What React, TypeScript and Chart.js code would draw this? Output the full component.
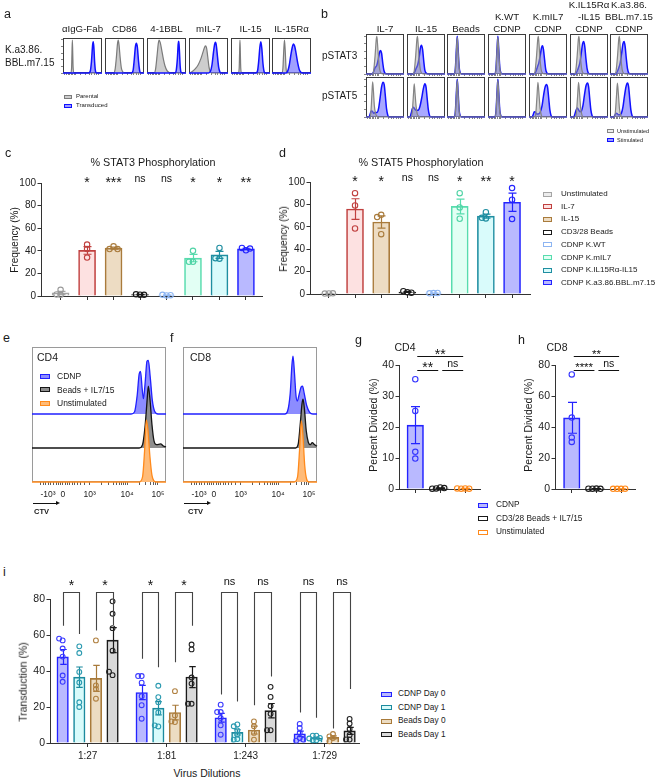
import React, { useEffect, useRef } from 'react';
import { Chart, registerables } from 'chart.js';

Chart.register(...registerables);

const FF = '"Liberation Sans", Arial, Helvetica, sans-serif';
Chart.defaults.font.family = FF;
Chart.defaults.color = '#222';

type P = [number, number];

/* =========================== DATA =========================== */

// a — marker histograms (x: position on logicle display axis 0–100, y: % of mode)
const A_ROW_LABEL = 'K.a3.86.\nBBL.m7.15';
const A_MARKERS = ['αIgG-Fab', 'CD86', '4-1BBL', 'mIL-7', 'IL-15', 'IL-15Rα'];
const A_LEGEND = ['Parental', 'Transduced'];
const A_PARENTAL: P[][] = [
  [[0,0],[20,0],[22,15],[23,60],[24,100],[25,60],[26,15],[28,0],[100,0]],
  [[0,0],[22,0],[26,12],[29,45],[32,88],[34,100],[36,85],[39,45],[42,15],[46,3],[50,0],[100,0]],
  [[0,0],[18,0],[22,12],[26,55],[29,90],[31,100],[34,92],[38,68],[42,42],[46,22],[51,8],[56,2],[61,0],[100,0]],
  [[0,0],[4,1],[10,6],[17,14],[24,26],[30,42],[35,60],[39,75],[42,82],[45,76],[48,50],[51,20],[54,5],[57,0],[100,0]],
  [[0,0],[19,0],[21,15],[22,60],[23,100],[24,60],[25,15],[27,0],[100,0]],
  [[0,0],[25,0],[28,15],[30,65],[32,100],[34,65],[36,15],[38,0],[100,0]],
];
const A_TRANSDUCED: P[][] = [
  [[0,0],[66,0],[70,6],[73,35],[76,85],[77.5,95],[79,80],[81,35],[83,8],[86,0],[100,0]],
  [[0,0],[68,0],[72,8],[75,40],[78,80],[80.5,90],[83,78],[86,35],[89,6],[92,0],[100,0]],
  [[0,0],[72,0],[75,8],[78,45],[80,88],[81.5,96],[83,70],[85,22],[87,3],[90,0],[100,0]],
  [[0,0],[50,0],[55,5],[59,25],[63,65],[66,88],[68,93],[70,84],[73,50],[76,18],[79,4],[82,0],[100,0]],
  [[0,0],[64,0],[68,6],[71,35],[74,78],[76.5,95],[79,75],[82,28],[85,4],[88,0],[100,0]],
  [[0,0],[36,0],[40,5],[44,22],[48,52],[52,78],[55,88],[58,82],[62,58],[66,30],[70,10],[74,2],[78,0],[100,0]],
];

// b — phospho-STAT histograms
const B_CONDITIONS = ['IL-7', 'IL-15', 'Beads', 'K.WT\nCDNP', 'K.mIL7\nCDNP', 'K.IL15Rα\n-IL15\nCDNP', 'K.a3.86.\nBBL.m7.15\nCDNP'];
const B_READOUTS = ['pSTAT3', 'pSTAT5'];
const B_LEGEND = ['Unstimulated', 'Stimulated'];
const B_UNSTIM_PSTAT3: P[][] = [
  [[0,0],[16,0],[20,8],[24,50],[27,92],[28.5,100],[30,85],[33,40],[36,12],[40,2],[44,0],[100,0]],
  [[0,0],[15,0],[19,8],[23,50],[26,92],[27.5,100],[29,85],[32,40],[35,12],[39,2],[43,0],[100,0]],
  [[0,0],[19,0],[22,12],[25,65],[27,97],[29,65],[32,15],[35,2],[38,0],[100,0]],
  [[0,0],[18,0],[21,12],[24,65],[26,97],[28,65],[31,15],[34,2],[37,0],[100,0]],
  [[0,0],[12,0],[16,8],[20,50],[23,92],[24.5,100],[26,85],[29,40],[32,12],[36,2],[40,0],[100,0]],
  [[0,0],[11,0],[15,8],[19,50],[22,92],[23.5,100],[25,85],[28,40],[31,12],[35,2],[39,0],[100,0]],
  [[0,0],[12,0],[16,8],[20,50],[23,92],[24.5,100],[26,85],[29,40],[32,12],[36,2],[40,0],[100,0]],
];
const B_STIM_PSTAT3: P[][] = [
  [[0,0],[16,0],[20,6],[24,17],[28,22],[32,38],[35,55],[38,62],[41,55],[44,30],[47,10],[50,2],[54,0],[100,0]],
  [[0,0],[16,0],[20,5],[24,15],[28,24],[32,45],[35,68],[38,76],[41,65],[44,35],[47,10],[51,2],[55,0],[100,0]],
  [[0,0],[19,0],[22,14],[25,70],[27,100],[29,70],[32,18],[35,3],[38,0],[100,0]],
  [[0,0],[18,0],[21,14],[24,70],[26,100],[28,70],[31,18],[34,3],[37,0],[100,0]],
  [[0,0],[14,0],[18,6],[22,18],[26,30],[30,52],[33,70],[35.5,75],[38,65],[41,38],[44,12],[47,3],[51,0],[100,0]],
  [[0,0],[14,0],[18,6],[22,16],[26,30],[30,58],[33,80],[36,86],[39,72],[42,40],[45,14],[48,3],[52,0],[100,0]],
  [[0,0],[15,0],[19,6],[23,16],[27,30],[31,58],[34,80],[37,86],[40,72],[43,40],[46,14],[49,3],[53,0],[100,0]],
];
const B_UNSTIM_PSTAT5: P[][] = [
  [[0,0],[10,0],[13,15],[15.5,60],[17.5,93],[19.5,70],[22,30],[25,10],[29,2],[33,0],[100,0]],
  [[0,0],[11,0],[14,15],[17,60],[19,88],[21,65],[24,28],[27,8],[31,2],[35,0],[100,0]],
  [[0,0],[19,0],[22,12],[25,65],[27,97],[29,65],[32,15],[35,2],[38,0],[100,0]],
  [[0,0],[18,0],[21,12],[24,65],[26,97],[28,65],[31,15],[34,2],[37,0],[100,0]],
  [[0,0],[14,0],[18,12],[21,55],[23.5,92],[26,65],[29,25],[32,7],[36,0],[100,0]],
  [[0,0],[13,0],[17,12],[20,55],[22.5,92],[25,65],[28,25],[31,7],[35,0],[100,0]],
  [[0,0],[11,0],[14,12],[17,55],[19.5,90],[22,62],[25,22],[28,6],[32,0],[100,0]],
];
const B_STIM_PSTAT5: P[][] = [
  [[0,0],[8,0],[11,8],[14,16],[17,15],[20,10],[24,12],[29,12],[33,22],[37,50],[41,80],[45,92],[48,85],[51,55],[54,22],[57,6],[60,0],[100,0]],
  [[0,0],[8,0],[11,10],[14,22],[17,26],[20,22],[24,18],[29,18],[34,28],[39,52],[43,75],[47,88],[50,80],[53,50],[56,20],[59,5],[62,0],[100,0]],
  [[0,0],[19,0],[22,14],[25,70],[27,100],[29,70],[32,18],[35,3],[38,0],[100,0]],
  [[0,0],[18,0],[21,14],[24,70],[26,100],[28,70],[31,18],[34,3],[37,0],[100,0]],
  [[0,0],[8,0],[11,6],[14,14],[17,13],[20,8],[24,8],[29,12],[34,28],[38,55],[42,78],[46,86],[49,78],[52,48],[55,18],[58,4],[61,0],[100,0]],
  [[0,0],[10,0],[13,8],[16,18],[19,24],[22,20],[26,14],[30,16],[34,30],[38,58],[42,82],[46,90],[49,80],[52,48],[55,18],[58,4],[61,0],[100,0]],
  [[0,0],[10,0],[13,5],[16,10],[19,9],[22,6],[26,6],[30,10],[34,26],[38,55],[42,80],[46,90],[49,80],[52,48],[55,18],[58,4],[61,0],[100,0]],
];

// c, d — phosphorylation frequency (%)
const CD_GROUPS = ['Unstimulated', 'IL-7', 'IL-15', 'CD3/28 Beads', 'CDNP K.WT', 'CDNP K.mIL7', 'CDNP K.IL15Rα-IL15', 'CDNP K.a3.86.BBL.m7.15'];
const STAT3_FREQ = [
  [5.5, 1.2, 1.4], [45.5, 41.5, 34], [44, 41.5, 41.5], [1.2, 1.5, 1.0],
  [0.5, 1.0, 0.7], [40, 30.3, 30.3], [42.5, 33, 33.5], [40.5, 42.5, 42],
];
const STAT3_SIG = ['', '*', '***', 'ns', 'ns', '*', '*', '**'];
const STAT5_FREQ = [
  [0.5, 0.4, 0.6], [90, 79, 58.5], [70.7, 68.7, 53.4], [1.5, 2.5, 1.2],
  [0.8, 0.6, 0.9], [90, 77.3, 67.2], [73, 67.5, 68], [94.6, 84.2, 66.9],
];
const STAT5_SIG = ['', '*', '*', 'ns', 'ns', '*', '**', '*'];

// e, f — CTV dilution histograms (height above each lane's baseline, lane units)
const CTV_SERIES = ['CDNP', 'Beads + IL7/15', 'Unstimulated'];
const CTV_TICK_VALUES = [12, 23, 43, 71, 94];
const CTV_TICK_LABELS = ['-10³', '0', '10³', '10⁴', '10⁵'];
const CTV_MINOR_TICKS = [6, 8.5, 10, 14, 16, 18, 19.5, 21, 25, 26.5, 28, 30, 32, 34, 36.5, 39.5, 52, 57, 60.5, 63, 65, 66.8, 68.3, 69.7, 80, 85, 88.5, 91, 92.5];
const E_CD4: P[][] = [
  [[0,0],[74,0],[76.5,0.06],[78.5,0.55],[80,1.18],[81,1.25],[82.2,0.75],[83.2,0.45],[84.5,0.95],[85.8,1.55],[86.8,1.58],[88.2,1.1],[89.8,0.4],[91.5,0.08],[94,0],[100,0]],
  [[0,0],[80,0],[82.5,0.1],[84.3,0.6],[85.8,1.35],[86.8,1.82],[88,1.45],[89.5,0.7],[91,0.22],[93,0.1],[96,0.12],[98,0.06],[100,0.03]],
  [[0,0],[80,0],[82.5,0.15],[84,0.9],[85.3,1.82],[86.5,1.55],[88,0.75],[89.5,0.2],[91,0.03],[93,0],[100,0]],
];
const F_CD8: P[][] = [
  [[0,0],[76,0],[78,0.08],[80,0.6],[81.3,1.45],[82.1,1.7],[83.2,1.2],[84.3,0.55],[85.3,0.38],[86.8,0.6],[88.2,0.8],[89.2,0.82],[90.5,0.6],[92.3,0.25],[94.5,0.05],[97,0],[100,0]],
  [[0,0],[84,0],[86,0.12],[87.6,0.75],[88.8,1.3],[89.6,1.44],[90.6,1.15],[92,0.5],[93.5,0.17],[95,0.1],[96.5,0.16],[98,0.1],[100,0.05]],
  [[0,0],[83,0],[85.5,0.15],[87,0.95],[88.3,1.8],[89.4,1.45],[90.8,0.5],[92.3,0.08],[94,0],[100,0]],
];

// g, h — percent divided
const DIV_GROUPS = ['CDNP', 'CD3/28 Beads + IL7/15', 'Unstimulated'];
const G_CD4_DIVIDED = [[35.4, 25.2, 12, 9.8], [0.5, 0.2, 0.3, 0.1], [0.2, 0.1, 0.1, 0.2]];
const H_CD8_DIVIDED = [[73.9, 46.1, 33.2, 30.4], [0.3, 0.2, 0.1, 0.2], [0.1, 0.1, 0.2, 0.1]];
const G_COMPARISONS = [
  { a: 0, b: 2, level: 42.9, label: '**' },
  { a: 0, b: 1, level: 38.4, label: '**' },
  { a: 1, b: 2, level: 38.4, label: 'ns' },
];
const H_COMPARISONS = [
  { a: 0, b: 2, level: 85.8, label: '**' },
  { a: 0, b: 1, level: 76.8, label: '****' },
  { a: 1, b: 2, level: 76.8, label: 'ns' },
];

// i — transduction (%) by virus dilution
const I_DILUTIONS = ['1:27', '1:81', '1:243', '1:729'];
const I_SERIES = ['CDNP Day 0', 'CDNP Day 1', 'Beads Day 0', 'Beads Day 1'];
const I_CDNP_D0 = [[57, 58, 52.5, 48, 37.5, 34], [37.2, 37.2, 33.5, 26, 21, 13.5], [21.3, 17.2, 17.2, 13.9, 9.8, 4.6], [8.4, 10.6, 5.6, 2.8, 1.3, 1.9]];
const I_CDNP_D1 = [[53.7, 50, 39.5, 33.6, 20, 22.6], [31.8, 25.5, 22.7, 9.2, 9.8, 17], [10.3, 9.3, 7, 2.2, 1.9, 4.7], [4.1, 4.1, 2.8, 1.5, 1.5, 2.5]];
const I_BEADS_D0 = [[57, 32, 30, 24.6], [28.8, 11.6, 15.3, 12], [12, 9.3, 5.6, 1.9], [5, 3.7, 2.8, 1]];
const I_BEADS_D1 = [[78.7, 71.8, 63.8, 51.3, 37.7, 39.6], [52, 54.7, 36.4, 21.8, 21.8, 33], [31.2, 25.6, 20.5, 16.2, 7.1, 7.1], [13.4, 10.8, 7.8, 4.5, 1.9, 2]];
const I_SIG = ['*', '*', '*', '*', 'ns', 'ns', 'ns', 'ns'];
const I_BRACKET_LEVEL = 83.7;
const I_BRACKET_LEGS = [[65.2, 60.6], [62.5, 65.6], [46.8, 42.1], [44.9, 65.2], [27, 23], [21, 37], [17, 14], [8, 30]];

/* =========================== STYLES =========================== */

const CD_COLORS = [
  { line: '#a5a5a5', fill: '#ececec', dot: '#9a9a9a' },
  { line: '#c0403f', fill: '#fde1e1', dot: '#c0403f' },
  { line: '#a97b3c', fill: '#eddcc3', dot: '#a97b3c' },
  { line: '#1a1a1a', fill: '#ffffff', dot: '#1a1a1a' },
  { line: '#8db5f2', fill: '#ffffff', dot: '#8db5f2' },
  { line: '#58dcae', fill: '#e2fff4', dot: '#4fd3a5' },
  { line: '#1f8ea1', fill: '#d9fbfb', dot: '#1f8ea1' },
  { line: '#2323ff', fill: '#b9b9ff', dot: '#2323ff' },
];
const CTV_COLORS = [
  { line: '#2020ff', fill: '#8c8cff', width: 1.3 },
  { line: '#151515', fill: '#8e8e8e', width: 1.3 },
  { line: '#ff8a1c', fill: '#ffbb78', width: 1.3 },
];
const DIV_COLORS = [
  { line: '#2323ff', fill: '#b9b9ff', dot: '#3535ff' },
  { line: '#1a1a1a', fill: '#ffffff', dot: '#1a1a1a' },
  { line: '#ff8a1c', fill: '#ffffff', dot: '#ff8a1c' },
];
const I_COLORS = [
  { line: '#2323ff', fill: '#b9b9ff', dot: '#3a3aff' },
  { line: '#1b8a9e', fill: '#d8fbfb', dot: '#2a9ab0' },
  { line: '#a87a3a', fill: '#ecdcc2', dot: '#b08040' },
  { line: '#1a1a1a', fill: '#d9d9d9', dot: '#222222' },
];
const PARENTAL_STYLE = { line: '#7b7b7b', fill: '#cdcdcd', width: 1.2 };
const TRANSDUCED_STYLE = { line: '#1010ff', fill: 'rgba(96,96,255,0.6)', width: 1.5 };
const UNSTIM_STYLE = { line: '#858585', fill: 'rgba(160,160,160,0.45)', width: 1.2 };
const STIM_STYLE = { line: '#1010ff', fill: 'rgba(96,96,255,0.55)', width: 1.5 };
const MINI_X_TICKS = [5, 9, 13, 17, 21, 25, 29, 33, 45, 58, 67, 72, 80, 86, 92];
const MINI_Y_TICKS = [0, 20, 40, 60, 80, 100];

/* =========================== HELPERS =========================== */

interface Box { l: number; t: number; r: number; b: number }
interface Pad { l: number; t: number; r: number; b: number }
interface Spec { rect: { x: number; y: number; w: number; h: number }; make: () => any }

const avg = (a: number[]) => a.reduce((s, v) => s + v, 0) / a.length;
const sem = (a: number[]) => {
  const m = avg(a);
  return Math.sqrt(a.reduce((s, v) => s + (v - m) ** 2, 0) / (a.length - 1)) / Math.sqrt(a.length);
};
const snap = (v: number) => Math.round(v) + 0.5;

function place(box: Box, yW: number, xH: number, pad: Pad) {
  const x = box.l - yW - pad.l;
  const y = box.t - pad.t;
  return {
    rect: { x, y, w: box.r + pad.r - x, h: box.b + xH + pad.b - y },
    padding: { left: pad.l, top: pad.t, right: pad.r, bottom: pad.b },
  };
}

const baseOptions = (padding: any) => ({
  animation: false,
  responsive: false,
  maintainAspectRatio: false,
  devicePixelRatio: 1,
  events: [],
  layout: { padding },
  plugins: { legend: { display: false }, tooltip: { enabled: false } },
});

const framePlugin = (color: string) => ({
  id: 'frame',
  beforeDatasetsDraw(chart: any) {
    const { ctx, chartArea: a } = chart;
    ctx.save();
    ctx.strokeStyle = color;
    ctx.lineWidth = 1;
    ctx.strokeRect(a.left + 0.5, a.top + 0.5, a.right - a.left - 1, a.bottom - a.top - 1);
    ctx.restore();
  },
});

function drawSig(ctx: CanvasRenderingContext2D, text: string, x: number, cy: number, starPx: number, nsPx: number) {
  if (!text) return;
  ctx.save();
  ctx.fillStyle = '#111';
  ctx.textAlign = 'center';
  ctx.textBaseline = 'alphabetic';
  if (text.startsWith('*')) {
    ctx.font = `${starPx}px ${FF}`;
    ctx.fillText(text, x, cy + 0.56 * starPx);
  } else {
    ctx.font = `${nsPx}px ${FF}`;
    ctx.fillText(text, x, cy + 0.27 * nsPx);
  }
  ctx.restore();
}

function curveDataset(pts: P[], st: { line: string; fill: string; width: number }, order: number, base = 0) {
  return {
    data: pts.map(([x, y]) => ({ x, y: y + base })),
    borderColor: st.line,
    backgroundColor: st.fill,
    borderWidth: st.width,
    fill: { value: base },
    pointRadius: 0,
    cubicInterpolationMode: 'monotone',
    order,
    clip: 3,
  };
}

function miniHist(box: Box, back: P[], backSt: any, front: P[], frontSt: any, yTicks: boolean): Spec {
  const { rect, padding } = place(box, 3, 3, { l: 1, t: 2, r: 2, b: 1 });
  return {
    rect,
    make: () => ({
      type: 'line',
      data: { datasets: [curveDataset(back, backSt, 2), curveDataset(front, frontSt, 1)] },
      options: {
        ...baseOptions(padding),
        scales: {
          x: {
            type: 'linear', min: 0, max: 100,
            afterBuildTicks: (s: any) => { s.ticks = MINI_X_TICKS.map((value) => ({ value })); },
            ticks: { display: false },
            grid: { drawOnChartArea: false, tickLength: 2, color: '#666', lineWidth: 0.8 },
            border: { display: false },
            afterFit: (s: any) => { s.height = 3; },
          },
          y: {
            type: 'linear', min: 0, max: 106,
            afterBuildTicks: (s: any) => { s.ticks = MINI_Y_TICKS.map((value) => ({ value })); },
            ticks: { display: false },
            grid: { drawOnChartArea: false, drawTicks: yTicks, tickLength: 2, color: '#666', lineWidth: 0.8 },
            border: { display: false },
            afterFit: (s: any) => { s.width = 3; },
          },
        },
      },
      plugins: [framePlugin('#3c3c3c')],
    }),
  };
}

function swarm(vals: number[], pxY: number, pxX: number, r: number): number[] {
  const placed: { x: number; y: number }[] = [];
  const step = r * 1.5;
  return vals.map((v) => {
    const y = v * pxY;
    let cx = 0;
    for (let k = 0; k < 40; k++) {
      const c = k === 0 ? 0 : (k % 2 ? -1 : 1) * Math.ceil(k / 2) * step;
      if (placed.every((p) => Math.hypot(p.x - c, p.y - y) >= step - 0.01)) { cx = c; break; }
    }
    placed.push({ x: cx, y });
    return cx / pxX;
  });
}

interface BarItem { x: number; vals: number[]; line: string; fill: string; dot: string }
interface DotBarSpec {
  box: Box; yW: number; xH: number; pad: Pad;
  xMin: number; xMax: number; yMax: number; yStep: number; yFont: number;
  items: BarItem[]; barPx: number; dotR: number; capPx: number;
  xTicks: number[]; xLabels?: string[]; xFont?: number; xPad?: number;
  annotate?: (chart: any) => void;
}

function dotBar(s: DotBarSpec): Spec {
  const { rect, padding } = place(s.box, s.yW, s.xH, s.pad);
  const pxY = (s.box.b - s.box.t) / s.yMax;
  const pxX = (s.box.r - s.box.l) / (s.xMax - s.xMin);
  const n = s.items.length;
  const errPlugin = {
    id: 'errbars',
    afterDatasetDraw(chart: any, args: any) {
      if (args.index >= n) return;
      const it = s.items[args.index];
      const m = avg(it.vals);
      const e = sem(it.vals);
      const xs = chart.scales.x;
      const ys = chart.scales.y;
      const x = snap(xs.getPixelForValue(it.x));
      const y1 = ys.getPixelForValue(Math.max(0, m - e));
      const y2 = ys.getPixelForValue(m + e);
      const ctx = chart.ctx;
      ctx.save();
      ctx.strokeStyle = it.line;
      ctx.lineWidth = 1.2;
      ctx.beginPath();
      ctx.moveTo(x, y1); ctx.lineTo(x, y2);
      ctx.moveTo(x - s.capPx / 2, y2); ctx.lineTo(x + s.capPx / 2, y2);
      ctx.moveTo(x - s.capPx / 2, y1); ctx.lineTo(x + s.capPx / 2, y1);
      ctx.stroke();
      ctx.restore();
    },
  };
  const annPlugin = { id: 'annotations', afterDraw(chart: any) { if (s.annotate) s.annotate(chart); } };
  return {
    rect,
    make: () => ({
      type: 'bar',
      data: {
        datasets: [
          ...s.items.map((it) => ({
            type: 'bar',
            data: [{ x: it.x, y: avg(it.vals) }],
            backgroundColor: it.fill,
            borderColor: it.line,
            borderWidth: 1.6,
            barThickness: s.barPx,
            grouped: false,
            order: 2,
          })),
          ...s.items.map((it) => {
            const offs = swarm(it.vals, pxY, pxX, s.dotR);
            return {
              type: 'scatter',
              data: it.vals.map((v, j) => ({ x: it.x + offs[j], y: v })),
              pointRadius: s.dotR,
              pointBorderWidth: 1.1,
              pointBorderColor: it.dot,
              pointBackgroundColor: 'rgba(0,0,0,0)',
              order: 1,
              clip: false,
            };
          }),
        ],
      },
      options: {
        ...baseOptions(padding),
        scales: {
          x: {
            type: 'linear', min: s.xMin, max: s.xMax, offset: false,
            afterBuildTicks: (a: any) => { a.ticks = s.xTicks.map((value) => ({ value })); },
            ticks: {
              display: !!s.xLabels, autoSkip: false, maxRotation: 0, minRotation: 0,
              font: { size: s.xFont || 10 }, color: '#222', padding: s.xPad ?? 3,
              callback: (_v: any, i: number) => (s.xLabels ? s.xLabels[i] : ''),
            },
            grid: { drawOnChartArea: false, offset: false, tickLength: 4, color: '#333' },
            border: { color: '#333', width: 1 },
            afterFit: (a: any) => { a.height = s.xH; },
          },
          y: {
            type: 'linear', min: 0, max: s.yMax,
            ticks: { stepSize: s.yStep, font: { size: s.yFont }, color: '#222', padding: 1.5 },
            grid: { drawOnChartArea: false, tickLength: 3.5, color: '#333' },
            border: { color: '#333', width: 1 },
            afterFit: (a: any) => { a.width = s.yW; },
          },
        },
      },
      plugins: [errPlugin, annPlugin],
    }),
  };
}

function ctvChart(box: Box, curves: P[][]): Spec {
  const { rect, padding } = place(box, 0, 20, { l: 4, t: 2, r: 8, b: 2 });
  const laneTop = (box.b - box.t) / 34; // lane units in this plot height
  return {
    rect,
    make: () => ({
      type: 'line',
      data: {
        datasets: curves.map((c, i) => curveDataset(c, CTV_COLORS[i], 3 - i, curves.length - 1 - i)),
      },
      options: {
        ...baseOptions(padding),
        scales: {
          x: {
            type: 'linear', min: 0, max: 100,
            afterBuildTicks: (s: any) => {
              s.ticks = [...CTV_MINOR_TICKS, ...CTV_TICK_VALUES].sort((p, q) => p - q).map((value) => ({ value }));
            },
            ticks: {
              autoSkip: false, maxRotation: 0, minRotation: 0, font: { size: 8.5 }, color: '#222', padding: 5,
              callback: (v: number) => {
                const k = CTV_TICK_VALUES.indexOf(v);
                return k >= 0 ? CTV_TICK_LABELS[k] : '';
              },
            },
            grid: { drawOnChartArea: false, tickLength: 3, color: '#333', lineWidth: 0.8 },
            border: { display: false },
            afterFit: (s: any) => { s.height = 20; },
          },
          y: { display: false, min: 0, max: laneTop },
        },
      },
      plugins: [framePlugin('#9a9a9a')],
    }),
  };
}

/* =========================== LAYOUT =========================== */

const A_BOX_X = [63, 105, 147, 189, 231, 272];
const A_BOX_W = 39;
const B_BOX_X = [366, 407, 447, 488, 529, 570, 610];
const B_BOX_W = 38;
const B_ROWS_Y = [[34, 74], [77, 117]];

const charts: Spec[] = [];

A_MARKERS.forEach((_, k) => {
  charts.push(miniHist({ l: A_BOX_X[k], t: 38, r: A_BOX_X[k] + A_BOX_W, b: 73 }, A_PARENTAL[k], PARENTAL_STYLE, A_TRANSDUCED[k], TRANSDUCED_STYLE, k === 0));
});
const B_UNSTIM = [B_UNSTIM_PSTAT3, B_UNSTIM_PSTAT5];
const B_STIM = [B_STIM_PSTAT3, B_STIM_PSTAT5];
B_READOUTS.forEach((_, r) => {
  B_CONDITIONS.forEach((__, k) => {
    charts.push(miniHist({ l: B_BOX_X[k], t: B_ROWS_Y[r][0], r: B_BOX_X[k] + B_BOX_W, b: B_ROWS_Y[r][1] }, B_STIM[r][k], STIM_STYLE, B_UNSTIM[r][k], UNSTIM_STYLE, k === 0));
  });
});

function statPanel(box: Box, xMin: number, xMax: number, values: number[][], sig: string[]): Spec {
  return dotBar({
    box, yW: 32, xH: 6, pad: { l: 2, t: 40, r: 4, b: 2 },
    xMin, xMax, yMax: 100, yStep: 20, yFont: 10,
    items: values.map((vals, i) => ({ x: i, vals, ...CD_COLORS[i] })),
    barPx: 17, dotR: 2.7, capPx: 8,
    xTicks: values.map((_, i) => i),
    annotate: (ch) => {
      const cy = ch.scales.y.getPixelForValue(100) - 3.5;
      sig.forEach((t, i) => drawSig(ch.ctx, t, ch.scales.x.getPixelForValue(i), cy, 14, 10.5));
    },
  });
}
charts.push(statPanel({ l: 41, t: 183, r: 264, b: 296 }, -0.74, 7.64, STAT3_FREQ, STAT3_SIG));
charts.push(statPanel({ l: 310, t: 182, r: 532, b: 294 }, -0.72, 7.72, STAT5_FREQ, STAT5_SIG));

charts.push(ctvChart({ l: 32, t: 347, r: 166, b: 482 }, E_CD4));
charts.push(ctvChart({ l: 183, t: 347, r: 317, b: 482 }, F_CD8));

function dividedPanel(box: Box, xMin: number, xMax: number, yMax: number, yStep: number, values: number[][], comps: any[], starPx: number): Spec {
  return dotBar({
    box, yW: 26, xH: 6, pad: { l: 2, t: 25, r: 4, b: 2 },
    xMin, xMax, yMax, yStep, yFont: 10.5,
    items: values.map((vals, i) => ({ x: i, vals, ...DIV_COLORS[i] })),
    barPx: 16.5, dotR: 2.7, capPx: 9,
    xTicks: values.map((_, i) => i),
    annotate: (ch) => {
      const ctx = ch.ctx;
      comps.forEach((c: any, idx: number) => {
        const y = snap(ch.scales.y.getPixelForValue(c.level));
        const x1 = ch.scales.x.getPixelForValue(c.a) + 2;
        const x2 = ch.scales.x.getPixelForValue(c.b) - 2;
        ctx.save();
        ctx.strokeStyle = '#111';
        ctx.lineWidth = 1;
        ctx.beginPath();
        ctx.moveTo(x1, y); ctx.lineTo(x2, y);
        ctx.stroke();
        ctx.restore();
        drawSig(ctx, c.label, (x1 + x2) / 2, y - (idx === 0 ? 5 : 6), starPx, 10.5);
      });
    },
  });
}
charts.push(dividedPanel({ l: 399, t: 365, r: 482, b: 489 }, -0.652, 2.63, 40, 10, G_CD4_DIVIDED, G_COMPARISONS, 14));
charts.push(dividedPanel({ l: 555, t: 365, r: 637, b: 489 }, -0.68, 2.6, 80, 20, H_CD8_DIVIDED, H_COMPARISONS, 11.5));

const I_GROUP_PX = 79.8;
const I_BAR_STEP_PX = 16.8;
const I_OFF = [-1.5, -0.5, 0.5, 1.5].map((k) => (k * I_BAR_STEP_PX) / I_GROUP_PX);
const I_DATA = [I_CDNP_D0, I_CDNP_D1, I_BEADS_D0, I_BEADS_D1];
charts.push(
  dotBar({
    box: { l: 50, t: 599, r: 363, b: 743 }, yW: 30, xH: 20, pad: { l: 2, t: 25, r: 2, b: 0 },
    xMin: -0.476, xMax: 3.446, yMax: 80, yStep: 20, yFont: 10.5,
    items: I_DILUTIONS.flatMap((_, g) => I_DATA.map((series, k) => ({ x: g + I_OFF[k], vals: series[g], ...I_COLORS[k] }))),
    barPx: 11.5, dotR: 2.4, capPx: 6.5,
    xTicks: I_DILUTIONS.map((_, g) => g), xLabels: I_DILUTIONS, xFont: 10, xPad: 3,
    annotate: (ch) => {
      const xs = ch.scales.x;
      const ys = ch.scales.y;
      const ctx = ch.ctx;
      const top = snap(ys.getPixelForValue(I_BRACKET_LEVEL));
      I_DILUTIONS.forEach((_, g) => {
        [0, 1].forEach((p) => {
          const k = g * 2 + p;
          const xa = snap(xs.getPixelForValue(g + I_OFF[p * 2]));
          const xb = snap(xs.getPixelForValue(g + I_OFF[p * 2 + 1]));
          ctx.save();
          ctx.strokeStyle = '#444';
          ctx.lineWidth = 1.1;
          ctx.beginPath();
          ctx.moveTo(xa, ys.getPixelForValue(I_BRACKET_LEGS[k][0]));
          ctx.lineTo(xa, top);
          ctx.lineTo(xb, top);
          ctx.lineTo(xb, ys.getPixelForValue(I_BRACKET_LEGS[k][1]));
          ctx.stroke();
          ctx.restore();
          drawSig(ctx, I_SIG[k], (xa + xb) / 2, top - 10.5, 14, 11);
        });
      });
    },
  })
);

/* =========================== COMPONENTS =========================== */

function ChartView({ spec }: { spec: Spec }) {
  const ref = useRef<HTMLCanvasElement>(null);
  useEffect(() => {
    const chart = new Chart(ref.current as HTMLCanvasElement, spec.make());
    return () => chart.destroy();
  }, []);
  const { x, y, w, h } = spec.rect;
  return <canvas ref={ref} width={w} height={h} style={{ position: 'absolute', left: x, top: y, width: w, height: h }} />;
}

function T({ x, y, s = 10, a = 'l', rot = 0, bold = false, lh, children }: any) {
  const tx = a === 'l' ? '0' : a === 'c' ? '-50%' : '-100%';
  return (
    <div
      style={{
        position: 'absolute', left: x, top: y,
        transform: `translate(${tx}, -50%)${rot ? ` rotate(${rot}deg)` : ''}`,
        fontSize: s, lineHeight: lh ? `${lh}px` : '1.2', fontWeight: bold ? 700 : 400,
        whiteSpace: 'pre', textAlign: a === 'r' ? 'right' : a === 'c' ? 'center' : 'left', color: '#1a1a1a',
      }}
    >
      {children}
    </div>
  );
}

function Sw({ x, y, w, h, line, fill, bw = 1.4 }: any) {
  return (
    <div style={{ position: 'absolute', left: x, top: y - h / 2, width: w, height: h, border: `${bw}px solid ${line}`, background: fill, boxSizing: 'border-box' }} />
  );
}

function Arrow({ x, y, w }: any) {
  return (
    <>
      <div style={{ position: 'absolute', left: x, top: y - 0.5, width: w - 3, height: 1, background: '#111' }} />
      <div style={{ position: 'absolute', left: x + w - 4, top: y - 2.5, width: 0, height: 0, borderLeft: '4px solid #111', borderTop: '2.5px solid transparent', borderBottom: '2.5px solid transparent' }} />
    </>
  );
}

export default function App() {
  const bTitleLH = 11.7;
  return (
    <div style={{ position: 'fixed', left: 0, top: 0, width: 659, height: 779, background: '#fff', overflow: 'hidden', fontFamily: FF }}>
      {charts.map((c, i) => <ChartView key={i} spec={c} />)}

      {/* panel letters */}
      <T x={4} y={14} s={12.5}>a</T>
      <T x={321} y={14} s={12.5}>b</T>
      <T x={5} y={153} s={12.5}>c</T>
      <T x={279} y={153} s={12.5}>d</T>
      <T x={3} y={338} s={12.5}>e</T>
      <T x={170} y={338} s={12.5}>f</T>
      <T x={355} y={340} s={12.5}>g</T>
      <T x={518} y={340} s={12.5}>h</T>
      <T x={3} y={572} s={12.5}>i</T>

      {/* a */}
      <T x={5} y={56} s={10} lh={12.5}>{A_ROW_LABEL}</T>
      {A_MARKERS.map((m, k) => <T key={m} x={A_BOX_X[k] + A_BOX_W / 2} y={29} s={9.7} a="c">{m}</T>)}
      <Sw x={64} y={97} w={8} h={4.5} line={PARENTAL_STYLE.line} fill={PARENTAL_STYLE.fill} bw={1} />
      <Sw x={64} y={106} w={8} h={4.5} line={TRANSDUCED_STYLE.line} fill="#9c9cff" bw={1} />
      <T x={76} y={97} s={6}>{A_LEGEND[0]}</T>
      <T x={76} y={106} s={6}>{A_LEGEND[1]}</T>

      {/* b */}
      {B_READOUTS.map((r, i) => <T key={r} x={322} y={i === 0 ? 56 : 96} s={10}>{r}</T>)}
      {B_CONDITIONS.map((c, k) => {
        const n = c.split('\n').length;
        return <T key={c} x={B_BOX_X[k] + B_BOX_W / 2} y={29 - ((n - 1) * bTitleLH) / 2} s={9.7} a="c" lh={bTitleLH}>{c}</T>;
      })}
      <Sw x={607} y={131} w={7} h={4} line={UNSTIM_STYLE.line} fill="#eeeeee" bw={1} />
      <Sw x={607} y={140} w={7} h={4} line={STIM_STYLE.line} fill="#9c9cff" bw={1} />
      <T x={617} y={131} s={5.5}>{B_LEGEND[0]}</T>
      <T x={617} y={140} s={5.5}>{B_LEGEND[1]}</T>

      {/* c, d */}
      <T x={153} y={162} s={10.8} a="c">% STAT3 Phosphorylation</T>
      <T x={421} y={162} s={10.8} a="c">% STAT5 Phosphorylation</T>
      <T x={15} y={240} s={10} a="c" rot={-90}>Frequency (%)</T>
      <T x={284} y={239} s={10} a="c" rot={-90}>Frequency (%)</T>
      {CD_GROUPS.map((g, i) => (
        <React.Fragment key={g}>
          <Sw x={543} y={194 + i * 12.7} w={9} h={5} line={CD_COLORS[i].line} fill={CD_COLORS[i].fill} />
          <T x={561} y={194 + i * 12.7} s={8}>{g}</T>
        </React.Fragment>
      ))}

      {/* e, f */}
      <T x={37} y={357} s={10.5}>CD4</T>
      <T x={190} y={357} s={10.5}>CD8</T>
      {CTV_SERIES.map((s, i) => (
        <React.Fragment key={s}>
          <Sw x={40} y={376 + i * 13.5} w={10} h={5} line={CTV_COLORS[i].line} fill={CTV_COLORS[i].fill} />
          <T x={57} y={376 + i * 13.5} s={8.5}>{s}</T>
        </React.Fragment>
      ))}
      <Arrow x={33} y={503} w={27} />
      <T x={34} y={510.5} s={7.5} bold>CTV</T>
      <Arrow x={184} y={503} w={27} />
      <T x={188} y={510.5} s={7.5} bold>CTV</T>

      {/* g, h */}
      <T x={405} y={347} s={10.5} a="c">CD4</T>
      <T x={557} y={347} s={10.5} a="c">CD8</T>
      <T x={373} y={425} s={10.5} a="c" rot={-90}>Percent Divided (%)</T>
      <T x={528} y={425} s={10.5} a="c" rot={-90}>Percent Divided (%)</T>
      {DIV_GROUPS.map((g, i) => (
        <React.Fragment key={g}>
          <Sw x={478} y={505 + i * 13.5} w={10} h={5} line={DIV_COLORS[i].line} fill={i === 0 ? DIV_COLORS[i].fill : '#ffffff'} />
          <T x={496} y={505 + i * 13.5} s={8.3}>{g}</T>
        </React.Fragment>
      ))}

      {/* i */}
      <T x={23} y={682} s={10.5} a="c" rot={-90}>Transduction (%)</T>
      <T x={207} y={773} s={10.5} a="c">Virus Dilutions</T>
      {I_SERIES.map((s, i) => (
        <React.Fragment key={s}>
          <Sw x={381} y={694 + i * 13.6} w={11} h={5} line={I_COLORS[i].line} fill={I_COLORS[i].fill} />
          <T x={398} y={694 + i * 13.6} s={8.3}>{s}</T>
        </React.Fragment>
      ))}
    </div>
  );
}
